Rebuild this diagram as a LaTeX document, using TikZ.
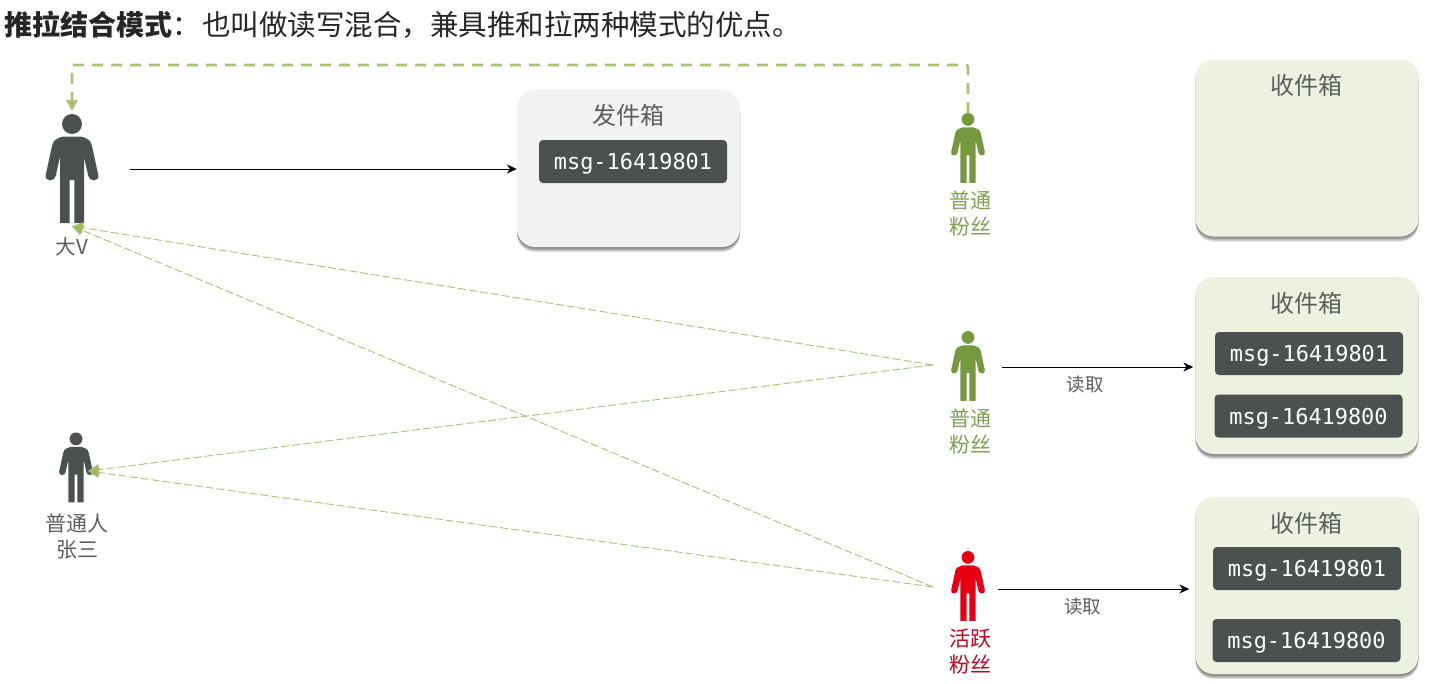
\documentclass[tikz,border=0pt]{standalone}
\usepackage{fontspec}
\setmainfont{Noto Sans CJK SC}
\setmonofont{DejaVu Sans Mono}
\usetikzlibrary{positioning, arrows.meta, shadows}
\definecolor{inkdark}{HTML}{4A5150}
\definecolor{textdark}{HTML}{5A5F5E}
\definecolor{fangreen}{HTML}{76983F}
\definecolor{fantext}{HTML}{7F9F55}
\definecolor{fanred}{HTML}{E60012}
\definecolor{redtext}{HTML}{C8001C}
\definecolor{linkgreen}{HTML}{A9C273}
\definecolor{tipgreen}{HTML}{9ABD5A}
\definecolor{inboxfill}{HTML}{ECF1E0}
\definecolor{outboxfill}{HTML}{F2F2F2}
\tikzset{
    softshadow/.style={drop shadow={shadow xshift=0pt, shadow yshift=-#1pt, fill=black, opacity=.12}},
    pics/person/.style={
        code={
            \fill[#1] (0,10) circle[radius=10];
            \fill[#1] (-9,22.6) -- (9,22.6) .. controls (14,23.5) and (19,26) .. (20,32)
                -- (26.3,61) .. controls (27.5,68) and (17.5,68) .. (16.3,62)
                -- (12,43) -- (12,109) -- (2.3,109) -- (2.3,66) -- (-2.3,66) -- (-2.3,109)
                -- (-12,109) -- (-12,43) -- (-16.3,62) .. controls (-17.5,68) and (-27.5,68) .. (-26.3,61)
                -- (-20,32) .. controls (-19,26) and (-14,23.5) .. (-9,22.6) -- cycle;
        }
    }
}
\begin{document}
\begin{tikzpicture}[
        x=1pt, y=-1pt,
        >=Stealth,
        figure/.style={inner sep=0pt, outer sep=0pt},
        mailbox/.style={rounded corners=18pt, minimum width=223pt, inner sep=0pt,
            softshadow=5, softshadow=4, softshadow=3, softshadow=2, softshadow=1},
        inbox/.style={mailbox, fill=inboxfill, minimum height=177pt},
        outbox/.style={mailbox, fill=outboxfill, minimum height=157pt},
        boxtitle/.style={text=textdark, font=\fontsize{24}{26}\selectfont, inner sep=0pt},
        msg/.style={fill=inkdark, text=white, rounded corners=4pt, minimum width=188pt,
            minimum height=43pt, inner sep=0pt, text height=16pt, text depth=0pt,
            font=\ttfamily\fontsize{21.9}{24}\selectfont},
        who/.style={align=center, inner sep=0pt, font=\fontsize{21}{26}\selectfont},
        readlabel/.style={text=textdark, inner sep=0pt, font=\fontsize{18.5}{20}\selectfont},
        follow/.style={linkgreen, line width=.9pt, dash pattern=on 8pt off 3pt,
            -{Triangle[length=11pt, width=11pt, fill=tipgreen]}},
        pull/.style={linkgreen, line width=2.7pt, dash pattern=on 11pt off 8pt,
            -{Triangle[length=11pt, width=11pt, fill=tipgreen]}},
        push/.style={-{Stealth[length=10pt, width=9pt]}, black, line width=.9pt}
    ]
    \useasboundingbox (0,0) rectangle (1437,683);

    \node[anchor=west, inner sep=0pt, text=black!85, font=\fontsize{28}{30}\selectfont] (title) at (4,25)
        {\textbf{推拉结合模式}：\hspace{2pt}{\fontsize{28.5}{30}\selectfont 也叫做读写混合，兼具推和拉两种模式的优点。}};

    % mailboxes
    \node[outbox] (outbox) at (628.5,168.5) {};
    \node[boxtitle] (outboxtitle) at (628,115) {发件箱};
    \node[msg] (outmsg) at (633,161.5) {msg-16419801};

    \node[inbox] (inboxa) at (1307,148) {};
    \node[boxtitle] (inboxatitle) at (1306,85) {收件箱};

    \node[inbox] (inboxb) at (1307,365.5) {};
    \node[boxtitle] (inboxbtitle) at (1306,303) {收件箱};
    \node[msg] (msgba) at (1309,353.5) {msg-16419801};
    \node[msg] (msgbb) at (1308.5,416) {msg-16419800};

    \node[inbox] (inboxc) at (1307,585.5) {};
    \node[boxtitle] (inboxctitle) at (1306,523) {收件箱};
    \node[msg] (msgca) at (1307,568.5) {msg-16419801};
    \node[msg] (msgcb) at (1306.5,640.5) {msg-16419800};

    % people
    \node[figure, minimum width=52pt, minimum height=109pt] (bigv) at (72,168.5) {};
    \pic at (bigv.north) {person=inkdark};
    \node[who, text=textdark, font=\fontsize{20.5}{24}\selectfont] (bigvlabel) at (72,247) {大V};

    \node[figure, minimum width=34pt, minimum height=70pt] (zhang) at (76,467.5) {};
    \pic[scale=.64] at (zhang.north) {person=inkdark};
    \node[who, text=textdark] (zhanglabel) at (77,537) {普通人\\张三};

    \node[figure, minimum width=34pt, minimum height=70pt] (fana) at (968,148) {};
    \pic[scale=.64] at (fana.north) {person=fangreen};
    \node[who, text=fantext] (fanalabel) at (970,213.5) {普通\\粉丝};

    \node[figure, minimum width=34pt, minimum height=70pt] (fanb) at (968,366) {};
    \pic[scale=.64] at (fanb.north) {person=fangreen};
    \node[who, text=fantext] (fanblabel) at (970,431) {普通\\粉丝};

    \node[figure, minimum width=34pt, minimum height=70pt] (fanc) at (968,586) {};
    \pic[scale=.64] at (fanc.north) {person=fanred};
    \node[who, text=redtext] (fanclabel) at (970,652) {活跃\\粉丝};

    % connector ends
    \coordinate (rail) at (520,65);
    \coordinate (bigvfoot) at (72,226);
    \coordinate (zhangarm) at (88,471);
    \coordinate (fanbleft) at (933,365);
    \coordinate (fancleft) at (933,587);
    \coordinate (bigvright) at (130,169);
    \coordinate (fanbright) at (1002,367);
    \coordinate (fancright) at (998,589);

    % connectors
    \draw[pull, shorten >=3pt, rounded corners=2pt] (fana.north) -- (fana.north |- rail) -- (bigv.north |- rail) -- (bigv.north);
    \draw[push] (bigvright) -- (outbox.west |- bigvright);
    \draw[follow] (fanbleft) -- (bigvfoot);
    \draw[follow] (fanbleft) -- (zhangarm);
    \draw[follow] (fancleft) -- (bigvfoot);
    \draw[follow] (fancleft) -- (zhangarm);
    \draw[push, shorten >=2pt] (fanbright) -- (inboxb.west |- fanbright) node[readlabel, pos=.43, yshift=-18pt] (reada) {读取};
    \draw[push, shorten >=6pt] (fancright) -- (inboxc.west |- fancright) node[readlabel, pos=.43, yshift=-18pt] (readb) {读取};
\end{tikzpicture}
\end{document}
